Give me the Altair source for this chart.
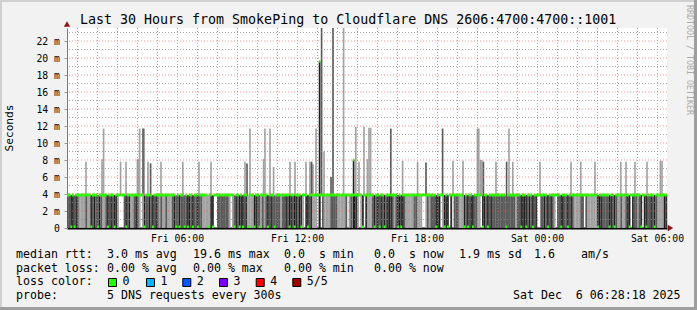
import altair as alt
import pandas as pd

# ---------------- values ----------------
T_START, T_END = 0.5, 30.5          # hours after Fri 00:00 (left / right edge)
STEP_H = 1 / 12                     # 5-minute steps
Y_MAX = 23.53                       # ms at the top of the plot
BASE_TOP = 3.85                     # top of the 0..4 ms smoke band (ms)

# one code per 5-minute step: L light, M medium, K dark smoke, W no smoke;
# upper case = median at ~4 ms, lower case = median at ~0 ms
BASE_CODES = [
    "MMkKmKMLLL" "LMLLkMKMmK" "MLLMkMKMkK" "LWWWMkMKLL" "MKMLWLkMMK" "MkMKMLMLLM",
    "LLLMKmMkMM" "mMkKMkMMkM" "MLLLlLKkWW" "MMMMMMMLWL" "mKMkKkMKlL" "LLkKMmLMLM",
    "kMKMmMMMLM" "MKMkKMkKMK" "kLWKkMKLLL" "WKWMLLLLMM" "MMLLLLLMWL" "MLKKLWLkWK",
    "LLLMkMKmKM" "kMKKKMLMkK" "kKMLLLLLMM" "LLLWWLMLMM" "MkKKWLkKkW" "KWMMMLLLkM",
    "kMKkMMLLWk" "KMkMKMMMMM" "MMMmMMMMML" "MMkKKkMKMk" "MKWWMMKMkM" "KMLWMMkKMM",
    "kMKMLLLLMM" "WMLLLLLLkK" "KMMMMkKMkM" "LLMLLMKkWK" "MMLMkWKkMM" "KMkMLLLLKK",
]

SPIKE_HOURS = [1.45, 2.25, 2.33, 3.18, 3.45, 4.02, 4.08, 4.13, 4.30, 4.36, 4.55, 4.68,
               5.20, 6.29, 7.10, 7.70, 9.40, 9.50, 9.65, 10.33, 10.40, 10.65, 10.83,
               11.65, 11.90, 12.45, 12.65, 12.73, 12.80, 12.95, 13.13, 13.23, 13.35,
               13.70, 13.80, 14.33, 14.83, 14.94, 15.10, 15.35, 15.52, 15.60, 15.68,
               16.69, 17.28, 18.03, 18.45, 19.28, 19.80, 20.30, 21.02, 21.09, 21.17,
               21.24, 21.32, 21.95, 22.48, 22.60, 22.79, 24.15, 25.70, 26.19, 26.90,
               28.19, 28.45, 28.90, 29.50, 30.17, 30.25]
SPIKE_TOPS = [7.8, 8.1, 11.7, 7.8, 7.8, 8.1, 8.1, 11.7, 11.7, 11.7, 7.8, 7.6,
              7.8, 7.8, 7.8, 7.8, 7.8, 7.6, 11.7, 8.1, 11.7, 11.7, 7.2,
              7.8, 7.8, 7.8, 7.8, 7.8, 7.5, 11.7, 19.6, 23.6, 9.0,
              6.0, 23.6, 23.6, 8.0, 11.9, 7.8, 11.9, 8.1, 11.8, 11.8,
              11.7, 7.9, 7.8, 7.7, 11.7, 7.9, 7.9, 11.7, 11.7, 8.0,
              8.0, 7.8, 7.8, 7.8, 11.7, 7.8, 7.8, 7.8, 7.8, 7.8,
              7.8, 7.8, 7.8, 7.8, 7.9, 7.9]
SPIKE_SHADES = ["L", "L", "L", "L", "L", "L", "L", "L", "M", "L", "L", "M",
                "L", "L", "L", "L", "L", "M", "L", "L", "L", "L", "L",
                "L", "L", "L", "L", "M", "L", "L", "K", "M", "L",
                "M", "M", "L", "K", "L", "L", "L", "L", "L", "L",
                "M", "L", "L", "M", "M", "L", "L", "L", "L", "L",
                "L", "M", "L", "M", "L", "L", "L", "L", "L", "L",
                "L", "L", "L", "L", "L", "L"]

HIGH_MED_HOURS = [13.13, 14.83]
HIGH_MED_VALUES = [19.6, 8.0]

TICK_HOURS = [6, 12, 18, 24, 30]
TICK_LABELS = ["Fri 06:00", "Fri 12:00", "Fri 18:00", "Sat 00:00", "Sat 06:00"]
Y_TICKS = [0, 2, 4, 6, 8, 10, 12, 14, 16, 18, 20, 22]

TITLE = "Last 30 Hours from SmokePing to Cloudflare DNS 2606:4700:4700::1001"
RTT_ITEMS = ["median rtt:", "3.0 ms avg", "19.6 ms max", "0.0  s min",
             "0.0  s now", "1.9 ms sd", "1.6", "am/s"]
LOSS_ITEMS = ["packet loss:", "0.00 % avg", "0.00 % max", "0.00 % min", "0.00 % now"]
LOSS_HEAD = "loss color:"
LOSS_LABELS = ["0", "1", "2", "3", "4", "5/5"]
LOSS_COLORS = ["#26ff00", "#00b8ff", "#0059ff", "#7e00ff", "#ff0000", "#a10000"]
PROBE_ITEMS = ["probe:", "5 DNS requests every 300s"]
DATE_TEXT = "Sat Dec  6 06:28:18 2025"
Y_TITLE = "Seconds"
WATERMARK = "RRDTOOL / TOBI OETIKER"

# ---------------- layout (pixels) ----------------
OX, OY = 67, 28          # plot origin in the 697x310 canvas
W, H = 600, 200
RTT_X = [16, 107, 193, 284, 374, 459, 534, 581]
LOSS_X = [16, 107, 193, 284, 374]
ROW_BASE = [258.3, 271.7, 285.0, 298.5]
BOX_X = [108, 146, 182.3, 219, 255.7, 292.3]
PROBE_X = [16, 107]
DATE_X = 513

MONO = "DejaVu Sans Mono"
SHADE_DOMAIN = ["L", "M", "K"]
SHADE_RANGE = ["#a3a3a3", "#5a5a5a", "#1e1e1e"]
GREEN = "#26ff00"
OVERLAP = 0.012   # hours, hides anti-alias seams between adjacent steps

codes = "".join(BASE_CODES)

rows, lines, meds = [], [], []
for i, c in enumerate(codes):
    t0 = T_START + i * STEP_H
    t1 = t0 + STEP_H
    up = c.upper()
    if up in ("L", "M"):
        rows.append({"t0": t0, "t1": t1 + OVERLAP, "lo": 0.0, "hi": BASE_TOP, "shade": up})
    elif up == "K":
        # dark smoke shows as a thin dark stripe inside a medium column
        rows.append({"t0": t0, "t1": t1 + OVERLAP, "lo": 0.0, "hi": BASE_TOP, "shade": "M"})
        lines.append({"t0": t0 + STEP_H * 0.2, "t1": t0 + STEP_H * 0.8,
                      "lo": 0.0, "hi": BASE_TOP, "shade": "K"})
    if c.isupper():
        meds.append({"t0": t0, "t1": t1 + OVERLAP, "lo": 3.72, "hi": 4.05})
    else:
        meds.append({"t0": t0, "t1": t1 + OVERLAP, "lo": 0.0, "hi": 0.3})
band_df = pd.DataFrame(rows + lines)

order = {"L": 0, "M": 1, "K": 2}
sp = []
for h, top, s in zip(SPIKE_HOURS, SPIKE_TOPS, SPIKE_SHADES):
    sp.append({"t0": h - STEP_H / 2, "t1": h + STEP_H / 2,
               "lo": 0.0 if s == "K" else BASE_TOP - 0.05, "hi": min(top, Y_MAX),
               "shade": s, "o": order[s]})
spike_df = pd.DataFrame(sp).sort_values("o", kind="stable")

for h, v in zip(HIGH_MED_HOURS, HIGH_MED_VALUES):
    meds.append({"t0": h - STEP_H / 2, "t1": h + STEP_H / 2, "lo": v - 0.15, "hi": v + 0.15})
med_df = pd.DataFrame(meds)

xs = alt.Scale(domain=[T_START, T_END], nice=False, zero=False)
ys = alt.Scale(domain=[0, Y_MAX], nice=False, zero=True)
shade_scale = alt.Scale(domain=SHADE_DOMAIN, range=SHADE_RANGE)

x_label_expr = " : ".join(f"datum.value == {h} ? '{l}'" for h, l in zip(TICK_HOURS, TICK_LABELS)) + " : ''"

x_axis = alt.Axis(values=TICK_HOURS, labelExpr=x_label_expr, title=None, grid=False,
                  domainColor="#000000", domainWidth=2, ticks=False, labelPadding=5,
                  labelFont=MONO, labelFontSize=9.8, labelColor="#000000",
                  labelAngle=0, labelFlush=False, labelOverlap=False)
y_axis = alt.Axis(values=Y_TICKS, labelExpr="datum.value == 0 ? '0' : datum.value + ' m'",
                  title=None, grid=False, domainColor="#7a7a7a", domainWidth=1,
                  tickColor="#9a9a9a", tickSize=3, labelPadding=4.5,
                  labelFont=MONO, labelFontSize=9.8, labelColor="#000000",
                  labelFlush=False, labelOverlap=False)

X = lambda f: alt.X(f, scale=xs, axis=x_axis)
Y = lambda f: alt.Y(f, scale=ys, axis=y_axis)

bands = alt.Chart(band_df).mark_rect(strokeWidth=0).encode(
    x=X("t0:Q"), x2="t1:Q", y=Y("lo:Q"), y2="hi:Q",
    color=alt.Color("shade:N", scale=shade_scale, legend=None))

spikes = alt.Chart(spike_df).mark_rect(strokeWidth=0).encode(
    x=X("t0:Q"), x2="t1:Q", y=Y("lo:Q"), y2="hi:Q",
    color=alt.Color("shade:N", scale=shade_scale, legend=None),
    order=alt.Order("o:Q"))

medians = alt.Chart(med_df).mark_rect(strokeWidth=0, color=GREEN).encode(
    x=X("t0:Q"), x2="t1:Q", y=Y("lo:Q"), y2="hi:Q")

minor_h = [h for h in range(1, 31) if h % 3 != 0]
major_h = [h for h in range(3, 31, 3)]
minor_v = [v for v in range(1, 24, 2)]
major_v = [v for v in range(2, 23, 2)]

def vrules(vals, color, op):
    return alt.Chart(pd.DataFrame({"h": vals})).mark_rule(
        color=color, strokeDash=[1, 2], strokeWidth=1, opacity=op, xOffset=0.5).encode(
        x=X("h:Q"))

def hrules(vals, color, op):
    return alt.Chart(pd.DataFrame({"v": vals})).mark_rule(
        color=color, strokeDash=[1, 2], strokeWidth=1, opacity=op).encode(
        y=Y("v:Q"))

grid = [vrules(minor_h, "#8a8a8a", 0.75), hrules(minor_v, "#8a8a8a", 0.75),
        vrules(major_h, "#ff4a4a", 0.6), hrules(major_v, "#ff4a4a", 0.6)]

ONE = pd.DataFrame({"k": [0]})

def txt(s, ax, ay, size=11.6, color="#000000", align="left", baseline="alphabetic", angle=0):
    return alt.Chart(ONE).mark_text(font=MONO, fontSize=size, color=color, align=align,
                                    baseline=baseline, angle=angle).encode(
        x=alt.value(ax - OX), y=alt.value(ay - OY), text=alt.value(s.replace(" ", "\u00a0")))

def box(ax0, ay0, ax1, ay1, fill, stroke=None):
    kw = {"fill": fill}
    if stroke:
        kw.update(stroke=stroke, strokeWidth=1)
    else:
        kw.update(strokeWidth=0)
    return alt.Chart(ONE).mark_rect(**kw).encode(
        x=alt.value(ax0 - OX), x2=alt.value(ax1 - OX),
        y=alt.value(ay0 - OY), y2=alt.value(ay1 - OY))

texts = [txt(TITLE, 80, 24, size=13.3)]
texts += [txt(s, x, ROW_BASE[0]) for s, x in zip(RTT_ITEMS, RTT_X)]
texts += [txt(s, x, ROW_BASE[1]) for s, x in zip(LOSS_ITEMS, LOSS_X)]
texts.append(txt(LOSS_HEAD, 16, ROW_BASE[2]))
for lab, col, bx in zip(LOSS_LABELS, LOSS_COLORS, BOX_X):
    texts.append(box(bx + 0.5, 278.5, bx + 8.5, 286.5, col, "#000000"))
    texts.append(txt(lab, bx + 14.5, ROW_BASE[2]))
texts += [txt(s, x, ROW_BASE[3]) for s, x in zip(PROBE_ITEMS, PROBE_X)]
texts.append(txt(DATE_TEXT, DATE_X, ROW_BASE[3]))
texts.append(txt(Y_TITLE, 10, 128, size=11.2, align="center", baseline="middle", angle=270))
texts.append(txt(WATERMARK, 688.5, 60, size=8.3, color="#aaaaaa", align="center",
                 baseline="middle", angle=90))

arrows = [
    alt.Chart(ONE).mark_point(shape="triangle-up", filled=True, size=40, color="#8b1414", opacity=1).encode(
        x=alt.value(0), y=alt.value(-4)),
    alt.Chart(ONE).mark_point(shape="triangle-right", filled=True, size=40, color="#8b1414", opacity=1).encode(
        x=alt.value(W + 3.5), y=alt.value(H)),
]

frame = [
    box(0, 0, 697, 2, "#d0d0d0"),
    box(0, 0, 2, 310, "#d0d0d0"),
    box(694, 0, 697, 310, "#9e9e9e"),
    box(0, 307, 697, 310, "#9e9e9e"),
]

chart = alt.layer(bands, spikes, medians, *grid, *arrows, *texts, *frame).properties(
    width=W, height=H,
    autosize=alt.AutoSizeParams(type="none"),
    padding={"left": OX, "top": OY, "right": 697 - OX - W, "bottom": 310 - OY - H},
    background="#f2f2f2",
).configure_view(stroke=None, fill="#ffffff")

chart.save("out.html", embed_options={"renderer": "svg", "actions": False})
